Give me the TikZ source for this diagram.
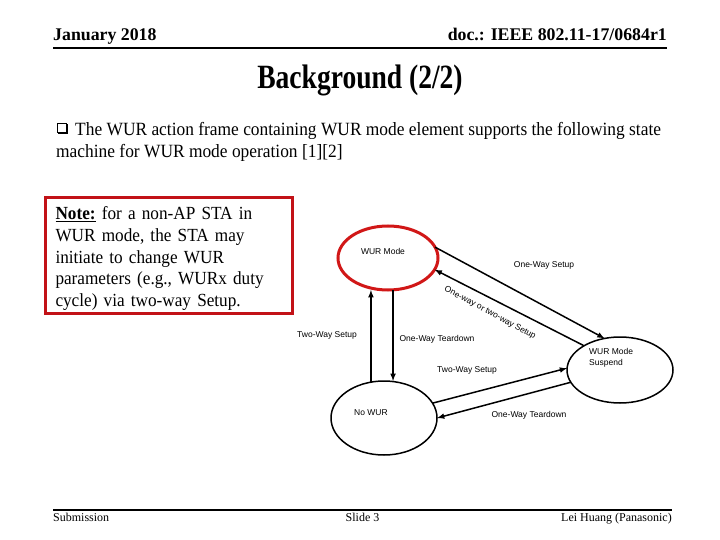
\documentclass[tikz,border=0pt]{standalone}
\usepackage{fontspec}
\setmainfont{Liberation Serif}
\setsansfont{Liberation Sans}
\newfontfamily\titlefont[FakeStretch=0.81]{Liberation Serif}
\newfontfamily\bodyfont[FakeStretch=0.93]{Liberation Serif}
\usetikzlibrary{shapes.geometric}
\definecolor{NoteColor}{rgb}{0.76,0.07,0.09}
\definecolor{ModeColor}{rgb}{0.82,0.09,0.09}
\tikzstyle{slide-text}=[inner sep=0pt]
\tikzstyle{header-text}=[slide-text, font=\bfseries\fontsize{17.8}{20}\selectfont]
\tikzstyle{body-text}=[slide-text, font=\bodyfont\fontsize{18.7}{22}\selectfont]
\tikzstyle{footer-text}=[slide-text, font=\fontsize{12}{14}\selectfont]
\tikzstyle{state-base}=[ellipse,
                        draw=black,
                        line width=1.5pt,
                        inner sep=0pt,
                        outer sep=0pt
                       ]
\tikzstyle{transition}=[inner sep=0pt, font=\sffamily\fontsize{8.5}{11}\selectfont]

\begin{document}
\begin{tikzpicture}[x=1pt, y=-1pt]
\useasboundingbox (0,0) rectangle (720,540);
\node at (53,41)  (date)   [header-text, anchor=base west] {January 2018};
\node at (667,41) (doc)    [header-text, anchor=base east] {doc.: IEEE 802.11-17/0684r1};
\draw[line width=2pt] (53,48) -- (667,48);
\node at (360,89) (title)  [slide-text, anchor=base, font=\titlefont\bfseries\fontsize{34}{36}\selectfont] {Background (2/2)};

\draw[line width=0.8pt] (57,123.5) rectangle (66,132.5);
\draw[line width=1.4pt] (58,133.5) -- (67,133.5) -- (67,124.5);
\node at (75,135.5) (point)      [body-text, anchor=base west] {The WUR action frame containing WUR mode element supports the following state};
\node at (56,157.5) (point_cont) [body-text, anchor=base west] {machine for WUR mode operation [1][2]};

\node at (45,198) (note) [anchor=north west, draw=NoteColor, line width=3pt, outer sep=0pt,
                          minimum width=247pt, minimum height=115pt, inner xsep=10.5pt, inner ysep=0pt,
                          text width=226pt, align=left, font=\bodyfont\fontsize{18.5}{21.8}\selectfont]
  {\rule{0pt}{19pt}\textbf{\underline{Note:}} for a non-AP STA in\\WUR mode, the STA may\\initiate to change WUR\\parameters (e.g., WURx duty\\cycle) via two-way Setup.};

\node at (388,258) (wur_mode)    [state-base, draw=ModeColor, line width=3pt, minimum width=100pt, minimum height=64pt] {};
\node at (620,370) (wur_suspend) [state-base, minimum width=106pt, minimum height=66pt] {};
\node at (384,418) (no_wur)      [state-base, minimum width=106pt, minimum height=74pt] {};

\node at (383,251)   (wur_mode_text)    [transition] {WUR Mode};
\node at (589,357.5) (wur_suspend_text) [transition, anchor=west, align=left] {WUR Mode\\Suspend};
\node at (371,413)   (no_wur_text)      [transition] {No WUR};

\draw[-latex, line width=1.5pt] (wur_mode.13) -- (wur_suspend.116);
\draw[-latex, line width=1.5pt] (wur_suspend.146) -- (wur_mode.-14);
\draw[-latex, line width=1.5pt] (no_wur.110) -- (no_wur.110 |- wur_mode.south);
\draw[-latex, line width=1.5pt] (wur_mode.-81) -- (wur_mode.-81 |- no_wur.north);
\draw[-latex, line width=1.5pt] (no_wur.17) -- (wur_suspend.178);
\draw[-latex, line width=1.5pt] (wur_suspend.-166) -- (no_wur.0);

\node at (544,265) (setup_text)            [transition] {One-Way Setup};
\node at (490,313) (setup_back_text)       [transition, rotate=-28] {One-way or two-way Setup};
\node at (327,335) (two_way_text)          [transition] {Two-Way Setup};
\node at (437,339) (teardown_text)         [transition] {One-Way Teardown};
\node at (467,370) (two_way_suspend_text)  [transition] {Two-Way Setup};
\node at (529,415) (teardown_suspend_text) [transition] {One-Way Teardown};

\draw[line width=2pt] (53,509.5) -- (672,509.5);
\node at (53,521)    (submission) [footer-text, anchor=base west] {Submission};
\node at (362.5,521) (slide)      [footer-text, anchor=base] {Slide 3};
\node at (672,521)   (author)     [footer-text, anchor=base east] {Lei Huang (Panasonic)};
\end{tikzpicture}
\end{document}
